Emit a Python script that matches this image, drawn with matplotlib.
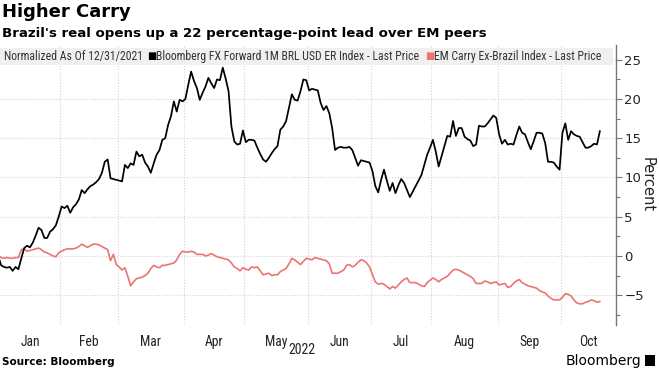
import numpy as np
import pandas as pd
import matplotlib
matplotlib.use("Agg")
import matplotlib.pyplot as plt
from matplotlib import font_manager as fm
from matplotlib.patches import Rectangle
from matplotlib.ticker import MultipleLocator, FixedLocator

# weekday axis, normalized as of 12/31/2021
dates = pd.bdate_range("2021-12-31", periods=210)

# Bloomberg FX Forward 1M BRL USD ER Index (normalized, %)
brl = [0.0, -1.2, -1.4, -1.5, -1.4, -1.9, -1.4, -1.7, -0.3, 1.0,
       1.3, 1.1, 1.7, 2.6, 3.6, 3.3, 2.3, 2.3, 3.1, 3.4,
       3.9, 5.0, 6.3, 6.1, 6.4, 5.5, 6.2, 6.6, 7.2, 8.4,
       8.0, 8.5, 8.9, 9.1, 9.4, 9.8, 10.6, 12.0, 12.3, 9.9,
       9.8, 9.7, 9.6, 9.5, 11.6, 11.2, 11.8, 11.6, 13.3, 12.7,
       12.9, 11.9, 11.4, 10.6, 11.8, 12.9, 13.5, 14.8, 15.0, 16.7,
       17.8, 19.7, 18.4, 19.9, 19.7, 20.0, 21.8, 23.5, 22.3, 21.4,
       19.9, 20.8, 21.6, 22.7, 22.0, 21.4, 22.5, 22.4, 24.0, 22.6,
       21.0, 16.5, 14.6, 14.2, 14.3, 16.0, 14.5, 14.8, 14.8, 14.7,
       13.8, 13.0, 12.3, 12.0, 12.5, 13.1, 13.6, 14.0, 16.1, 16.5,
       17.2, 18.9, 20.6, 19.9, 19.8, 21.0, 22.5, 22.4, 21.1, 21.3,
       21.2, 21.1, 19.5, 18.6, 19.1, 18.2, 16.3, 13.5, 13.8, 13.9,
       13.8, 13.8, 13.9, 13.5, 12.5, 11.5, 12.2, 12.1, 12.0, 11.9,
       10.8, 8.9, 8.1, 9.7, 11.0, 9.6, 8.3, 9.3, 8.0, 9.0,
       9.8, 9.3, 8.4, 7.5, 8.2, 8.9, 9.6, 10.3, 11.6, 12.9,
       13.8, 14.8, 13.3, 11.4, 12.7, 14.0, 15.3, 15.2, 17.2, 15.3,
       16.3, 16.3, 15.2, 14.9, 14.7, 14.0, 14.2, 16.6, 16.5, 16.5,
       16.9, 17.4, 17.9, 17.6, 15.5, 14.3, 14.8, 14.2, 14.3, 14.2,
       15.4, 16.5, 15.7, 15.5, 14.5, 13.6, 14.6, 15.7, 15.7, 15.6,
       14.4, 12.0, 12.0, 11.9, 11.4, 11.0, 15.7, 16.9, 14.8, 15.9,
       15.5, 15.3, 15.2, 14.5, 13.8, 13.8, 14.0, 14.3, 14.2, 15.9]

# EM Carry Ex-Brazil Index (normalized, %)
em = [0.0, -0.2, -0.3, -0.2, -0.3, -0.3, -0.2, -0.2, 0.8, 0.9,
      0.6, 0.7, 0.8, 0.9, 1.0, 0.8, 0.5, 0.4, 0.2, 0.0,
      -0.1, 0.4, 0.6, 0.8, 0.9, 0.9, 0.9, 1.0, 1.2, 1.5,
      1.3, 1.1, 1.3, 1.5, 1.5, 1.4, 1.2, 1.0, 0.8, -0.6,
      0.2, -1.1, -1.4, -1.8, -1.5, -2.6, -3.8, -3.3, -2.9, -2.8,
      -2.7, -2.5, -2.2, -1.6, -1.2, -1.4, -1.5, -1.2, -1.2, -1.1,
      -1.0, -0.9, -0.5, 0.2, 0.6, 0.5, 0.5, 0.6, 0.5, 0.2,
      0.2, 0.2, 0.0, 0.1, 0.3, 0.1, -0.1, -0.2, -0.3, -0.4,
      -0.5, -0.9, -1.4, -1.6, -1.9, -1.5, -1.7, -1.8, -1.4, -1.5,
      -1.4, -1.9, -2.4, -2.3, -2.2, -2.5, -2.4, -2.4, -2.0, -1.8,
      -1.6, -1.0, -0.3, -0.5, -0.8, -1.1, -0.7, -0.3, -0.4, -0.5,
      -0.2, -0.3, -0.4, -0.5, -0.6, -1.0, -2.2, -2.2, -2.2, -2.0,
      -1.8, -1.2, -1.1, -1.4, -1.2, -0.8, -0.5, -0.6, -0.9, -1.4,
      -2.4, -3.3, -3.6, -3.5, -3.6, -3.9, -4.2, -3.9, -4.1, -3.7,
      -3.3, -3.0, -2.8, -3.4, -3.4, -3.4, -3.6, -3.8, -3.9, -3.4,
      -3.1, -2.8, -3.0, -3.3, -3.0, -2.8, -2.6, -2.2, -1.8, -1.7,
      -1.8, -2.0, -2.2, -2.4, -2.6, -2.9, -3.5, -3.5, -3.5, -3.2,
      -3.3, -3.5, -3.4, -3.3, -3.7, -3.6, -3.5, -4.0, -3.9, -3.5,
      -3.2, -3.0, -3.4, -3.6, -3.8, -3.9, -4.0, -4.1, -4.4, -4.6,
      -4.7, -5.1, -5.4, -5.6, -5.6, -5.6, -5.3, -4.8, -4.9, -5.1,
      -5.6, -6.0, -6.1, -6.1, -5.9, -5.8, -5.6, -5.7, -5.9, -5.8]

title = "Higher Carry"
subtitle = "Brazil's real opens up a 22 percentage-point lead over EM peers"
legend_note = "Normalized As Of 12/31/2021"
brl_label = "Bloomberg FX Forward 1M BRL USD ER Index - Last Price"
em_label = "EM Carry Ex-Brazil Index - Last Price"

RED = "#ea7571"
GRID = "#d4d4d4"

# narrow font if there is one, else plain DejaVu a bit smaller
names = {f.name for f in fm.fontManager.ttflist}
narrow = next((n for n in ["Liberation Sans Narrow", "DejaVu Sans Condensed",
                           "Roboto Condensed", "Open Sans Condensed"]
               if n in names), None)
if narrow:
    NARROW, LEG_FS, MON_FS = [narrow, "DejaVu Sans"], 8.45, 9.8
else:
    NARROW, LEG_FS, MON_FS = ["DejaVu Sans"], 6.8, 9

fig = plt.figure(figsize=(6.59, 3.71), dpi=100)
ax = fig.add_axes([0.0, 0.124, 0.9347, 0.755])

x = np.arange(len(dates))
ax.plot(x, brl, color="black", lw=1.25, zorder=4)
ax.plot(x, em, color=RED, lw=1.2, zorder=3)

xmin, xmax = 0.6, 214.6
ax.set_xlim(xmin, xmax)
ax.set_ylim(-8.8, 26.9)

# month boundaries -> gridlines, month centres -> labels
months = dates.to_period("M")
starts = [i for i in range(1, len(dates))
          if months[i] != months[i - 1] and i - 0.5 > xmin]
bounds = [s - 0.5 for s in starts]
edges = [xmin] + bounds + [xmax]
centres = [(edges[k] + edges[k + 1]) / 2 for k in range(len(edges) - 1)]
labels = [dates[1].strftime("%b")] + [dates[s].strftime("%b") for s in starts]

ax.xaxis.set_major_locator(FixedLocator(bounds))
ax.xaxis.set_major_formatter(plt.NullFormatter())
ax.set_xticks(centres, labels, minor=True)
ax.tick_params(axis="x", which="both", length=0, pad=7, labelsize=MON_FS,
               labelcolor="#222222")
for t in ax.get_xticklabels(minor=True):
    t.set_family(NARROW)

ax.yaxis.tick_right()
ax.yaxis.set_major_locator(MultipleLocator(5))
ax.yaxis.set_minor_locator(MultipleLocator(2.5))
ax.tick_params(axis="y", which="major", length=4, width=0.8, color="#777777",
               labelsize=9.5, labelcolor="#222222", pad=2)
ax.tick_params(axis="y", which="minor", length=3, width=0.8, color="#777777")

ax.grid(axis="both", which="major", color=GRID, ls=(0, (1, 1.5)), lw=0.8)
ax.set_axisbelow(True)

for side in ["left", "top", "bottom"]:
    ax.spines[side].set_visible(False)
ax.spines["right"].set_color("#777777")
ax.spines["right"].set_linewidth(1.0)

ax.yaxis.set_label_position("right")
ax.set_ylabel("Percent", rotation=270, labelpad=8, fontsize=10.5,
              color="#222222")

# legend strip
ax.add_patch(Rectangle((0, 0.929), 0.995, 0.06, transform=ax.transAxes,
                       facecolor="#f0f0f0", edgecolor="none", zorder=2))
ly = 0.959
ax.text(4 / 616, ly, legend_note, transform=ax.transAxes, fontsize=LEG_FS,
        va="center", color="#333333", family=NARROW, zorder=5)
ax.text(147 / 616, ly, "■", transform=ax.transAxes, fontsize=7,
        va="center", color="black", zorder=5)
ax.text(156 / 616, ly, brl_label, transform=ax.transAxes, fontsize=LEG_FS,
        va="center", color="#333333", family=NARROW, zorder=5)
ax.text(425 / 616, ly, "■", transform=ax.transAxes, fontsize=7,
        va="center", color=RED, zorder=5)
ax.text(434 / 616, ly, em_label, transform=ax.transAxes, fontsize=LEG_FS,
        va="center", color="#333333", family=NARROW, zorder=5)

fig.text(302 / 659, 1 - 350 / 371, "2022", ha="center", va="center",
         fontsize=10, color="#222222", family=NARROW)

fig.text(0.003, 1 - 12 / 371, title, fontsize=13, fontweight="bold",
         va="center", ha="left", color="black")
fig.text(0.003, 1 - 33 / 371, subtitle, fontsize=9.6, fontweight="bold",
         va="center", ha="left", color="black")
fig.text(0.003, 1 - 362 / 371, "Source: Bloomberg", fontsize=7.5,
         fontweight="bold", va="center", ha="left", color="black")
fig.text(641 / 659, 1 - 361 / 371, "Bloomberg", fontsize=10,
         va="center", ha="right", color="black")
fig.patches.append(Rectangle((645 / 659, 1 - 366 / 371), 10 / 659, 11 / 371,
                             transform=fig.transFigure, facecolor="black",
                             edgecolor="none"))

fig.savefig("out.png", dpi=100)
